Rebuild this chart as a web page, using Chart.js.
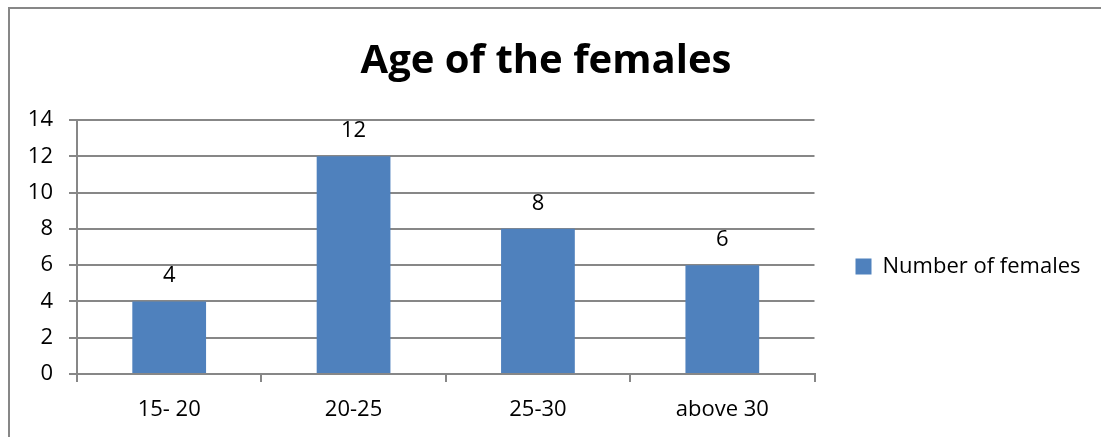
<!DOCTYPE html>
<html>
<head>
<meta charset="utf-8">
<script src="https://cdn.jsdelivr.net/npm/chart.js@4/dist/chart.umd.min.js"></script>
<style>
  html, body { margin: 0; padding: 0; background: #fff; }
  #wrap { width: 1101px; height: 437px; position: relative; }
</style>
</head>
<body>
<div id="wrap"><canvas id="chart"></canvas></div>
<script>
const categories = ["15- 20", "20-25", "25-30", "above 30"];
const females = [4, 12, 8, 6];
const seriesName = "Number of females";
const yTicks = [0, 2, 4, 6, 8, 10, 12, 14];

const FONT = "'Open Sans', sans-serif";
const GRID = "#878787";

// frame around the chart (left and top edges only visible in the crop)
const framePlugin = {
  id: "frame",
  beforeDraw(chart) {
    const ctx = chart.ctx;
    ctx.save();
    ctx.strokeStyle = GRID;
    ctx.lineWidth = 2;
    ctx.beginPath();
    ctx.moveTo(9, chart.height);
    ctx.lineTo(9, 8);
    ctx.lineTo(chart.width, 8);
    ctx.stroke();
    ctx.restore();
  }
};

// value labels above each bar
const valueLabels = {
  id: "valueLabels",
  afterDatasetsDraw(chart) {
    const ctx = chart.ctx;
    ctx.save();
    ctx.font = "22px " + FONT;
    ctx.fillStyle = "#000";
    ctx.textAlign = "center";
    ctx.textBaseline = "alphabetic";
    chart.getDatasetMeta(0).data.forEach((bar, i) => {
      ctx.fillText(String(females[i]), bar.x, bar.y - 19);
    });
    ctx.restore();
  }
};

const ctx = document.getElementById("chart").getContext("2d");
new Chart(ctx, {
  type: "bar",
  data: {
    labels: categories,
    datasets: [{
      label: seriesName,
      data: females,
      backgroundColor: "#4F81BD",
      categoryPercentage: 1,
      barPercentage: 0.4
    }]
  },
  options: {
    responsive: true,
    maintainAspectRatio: false,
    animation: false,
    layout: { padding: { left: 9, right: 18, top: 0, bottom: 0 } },
    plugins: {
      title: {
        display: true,
        text: "Age of the females",
        color: "#000",
        font: { family: FONT, size: 40, weight: "bold" },
        padding: { top: 38, bottom: 34 }
      },
      legend: {
        position: "right",
        // blank title only pushes the entry down to the plot's middle
        title: { display: true, text: " ", font: { size: 10 }, padding: { top: 84, bottom: 0 } },
        labels: {
          color: "#000",
          font: { family: FONT, size: 22 },
          boxWidth: 16,
          boxHeight: 16,
          padding: 41
        }
      },
      tooltip: { enabled: false }
    },
    scales: {
      x: {
        afterFit(scale) { scale.height = 63; },
        grid: {
          offset: true,
          drawOnChartArea: false,
          drawTicks: true,
          tickLength: 8,
          color: GRID,
          lineWidth: 2
        },
        border: { color: GRID, width: 2 },
        ticks: { color: "#000", font: { family: FONT, size: 22 }, padding: 15 }
      },
      y: {
        min: 0,
        max: 14,
        afterFit(scale) { scale.width = 68; },
        afterBuildTicks(scale) { scale.ticks = yTicks.map(v => ({ value: v })); },
        grid: { color: GRID, lineWidth: 2, tickLength: 8 },
        border: { color: GRID, width: 2 },
        ticks: { color: "#000", font: { family: FONT, size: 22 }, padding: 16 }
      }
    }
  },
  plugins: [framePlugin, valueLabels]
});
</script>
</body>
</html>
